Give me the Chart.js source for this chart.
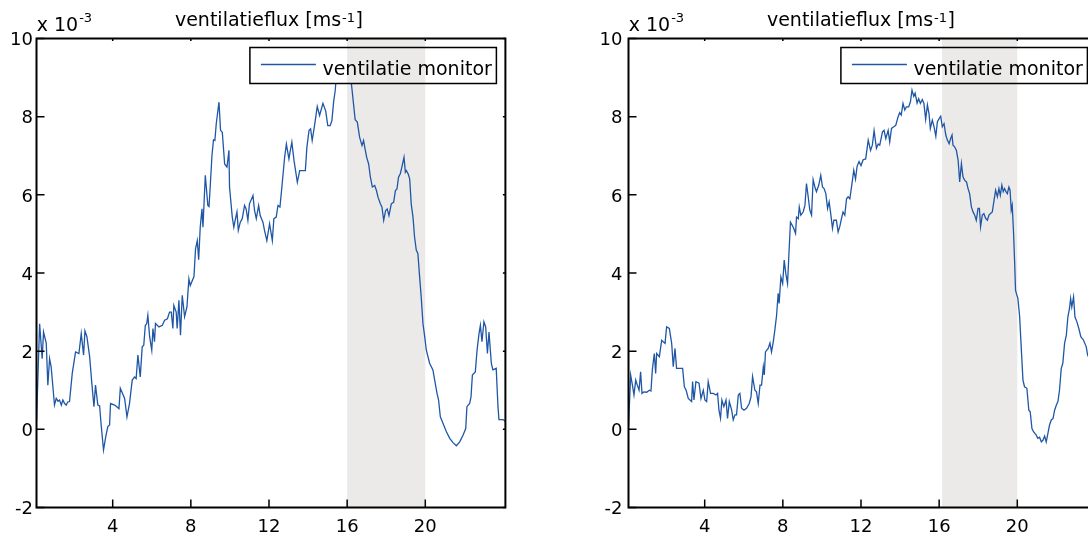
<!DOCTYPE html>
<html>
<head>
<meta charset="utf-8">
<title>ventilatieflux</title>
<script src="https://cdn.jsdelivr.net/npm/chart.js@4.4.1/dist/chart.umd.min.js"></script>
<style>
  html, body { margin:0; padding:0; background:#fff; overflow:hidden; width:1088px; height:535px; }
  canvas { position:absolute; top:0; }
  #links { left:0; }
  #rechts { left:590px; }
</style>
</head>
<body>
<canvas id="links" width="545" height="535"></canvas>
<canvas id="rechts" width="560" height="535"></canvas>
<script>
// tijd in uren, flux in 10^-3 m/s
var tijdLinks = [0.1,0.26,0.39,0.46,0.6,0.68,0.77,0.85,1.02,1.11,
  1.2,1.28,1.37,1.45,1.54,1.62,1.7,1.79,1.93,2.1,
  2.27,2.39,2.51,2.58,2.68,2.82,2.94,3.04,3.12,3.24,
  3.33,3.41,3.53,3.64,3.75,3.84,3.89,4.1,4.32,4.39,
  4.61,4.73,4.86,5.0,5.12,5.2,5.29,5.41,5.51,5.59,
  5.67,5.74,5.8,5.89,6.0,6.06,6.14,6.19,6.37,6.54,
  6.66,6.8,6.91,7.0,7.08,7.13,7.25,7.3,7.39,7.47,
  7.56,7.68,7.8,7.9,7.97,8.16,8.24,8.33,8.4,8.48,
  8.57,8.62,8.74,8.87,8.93,8.99,9.08,9.16,9.23,9.3,
  9.44,9.52,9.61,9.73,9.85,9.95,9.98,10.12,10.2,10.28,
  10.36,10.43,10.53,10.63,10.75,10.83,10.92,11.0,11.18,11.26,
  11.35,11.47,11.55,11.69,11.77,11.89,12.03,12.17,12.25,12.37,
  12.46,12.56,12.66,12.8,12.89,13.02,13.09,13.17,13.28,13.45,
  13.57,13.74,13.86,13.94,14.05,14.13,14.21,14.33,14.47,14.59,
  14.76,14.9,15.01,15.13,15.22,15.31,15.39,15.44,15.6,15.85,
  16.05,16.21,16.29,16.41,16.52,16.64,16.76,16.84,16.9,17.0,
  17.1,17.19,17.29,17.41,17.5,17.58,17.7,17.78,17.87,17.97,
  18.05,18.14,18.26,18.38,18.47,18.55,18.63,18.72,18.8,18.91,
  18.98,19.03,19.12,19.2,19.28,19.37,19.45,19.54,19.62,19.71,
  19.79,19.88,19.97,20.05,20.22,20.39,20.48,20.6,20.68,20.77,
  20.91,21.08,21.25,21.42,21.59,21.76,21.93,22.07,22.13,22.27,
  22.34,22.41,22.56,22.65,22.75,22.82,22.9,23.0,23.09,23.18,
  23.26,23.38,23.46,23.63,23.72,23.77,23.98,24.1];
var fluxLinks = [0.2,2.7,1.81,2.49,2.2,1.13,1.81,1.6,0.62,0.79,
  0.72,0.75,0.62,0.75,0.66,0.62,0.7,0.71,1.43,1.98,
  1.94,2.45,1.9,2.52,2.37,1.86,1.13,0.58,1.13,0.62,
  0.6,0.11,-0.53,-0.2,0.07,0.11,0.66,0.62,0.53,1.05,
  0.79,0.32,0.66,1.26,1.34,1.3,1.9,1.34,2.11,2.15,
  2.66,2.7,2.92,2.37,2.02,2.58,2.24,2.71,2.62,2.66,
  2.79,2.83,3.0,3.0,2.58,3.17,3.0,2.58,3.3,2.41,
  3.43,2.88,3.13,3.85,3.68,3.91,4.62,4.83,4.34,5.17,
  5.64,5.17,6.5,5.73,5.7,6.2,7.0,7.41,7.39,7.82,
  8.37,7.65,7.6,6.79,6.71,7.14,6.2,5.43,5.17,5.38,
  5.56,5.09,5.3,5.39,5.73,5.64,5.35,5.77,5.98,5.6,
  5.39,5.73,5.47,5.3,5.09,4.83,5.26,4.83,5.39,5.43,
  5.73,5.69,6.2,6.96,7.3,6.92,7.13,7.35,6.88,6.32,
  6.62,6.62,6.62,7.22,7.65,7.69,7.39,7.77,8.26,8.03,
  8.34,8.15,7.77,7.77,7.9,8.39,8.67,9.0,9.5,9.4,
  9.2,8.88,8.5,7.92,7.86,7.47,7.26,7.39,7.22,6.96,
  6.79,6.45,6.2,6.24,6.11,5.94,5.77,5.69,5.35,5.6,
  5.64,5.47,5.77,5.81,6.11,6.15,6.45,6.54,6.71,6.96,
  6.58,6.62,6.54,6.41,5.77,5.43,4.92,4.58,4.5,3.9,
  3.39,2.71,2.37,2.03,1.69,1.52,1.26,0.92,0.75,0.32,
  0.15,-0.06,-0.23,-0.34,-0.42,-0.32,-0.15,0.02,0.58,0.66,
  0.83,1.39,1.47,2.03,2.45,2.66,2.24,2.75,2.62,1.94,
  2.49,1.69,1.52,1.56,0.58,0.25,0.25,0.2];

var tijdRechts = [0.1,0.21,0.3,0.38,0.47,0.55,0.64,0.72,0.79,0.89,
  1.03,1.17,1.25,1.32,1.42,1.49,1.54,1.68,1.8,1.97,
  2.05,2.19,2.31,2.39,2.48,2.56,2.72,2.87,2.96,3.05,
  3.16,3.33,3.38,3.45,3.55,3.71,3.81,3.93,4.01,4.1,
  4.18,4.3,4.44,4.58,4.66,4.73,4.81,4.88,4.98,5.09,
  5.17,5.26,5.38,5.46,5.55,5.63,5.72,5.8,5.89,6.01,
  6.14,6.28,6.37,6.45,6.57,6.65,6.74,6.83,6.91,7.0,
  7.05,7.11,7.25,7.34,7.42,7.51,7.59,7.68,7.76,7.81,
  7.9,7.99,8.07,8.15,8.24,8.32,8.39,8.48,8.56,8.65,
  8.7,8.79,8.84,8.92,9.04,9.13,9.21,9.31,9.38,9.47,
  9.55,9.64,9.72,9.84,9.94,10.03,10.11,10.2,10.29,10.37,
  10.45,10.54,10.61,10.74,10.83,10.92,11.0,11.08,11.17,11.26,
  11.34,11.43,11.55,11.63,11.72,11.8,11.9,12.0,12.11,12.24,
  12.37,12.49,12.58,12.67,12.79,12.88,12.96,13.1,13.18,13.27,
  13.39,13.47,13.56,13.68,13.78,13.9,13.98,14.06,14.15,14.24,
  14.32,14.44,14.53,14.61,14.7,14.77,14.87,14.95,15.04,15.14,
  15.22,15.31,15.4,15.48,15.55,15.65,15.74,15.83,15.91,16.0,
  16.08,16.16,16.25,16.34,16.42,16.51,16.59,16.66,16.71,16.79,
  16.88,16.97,17.05,17.14,17.22,17.31,17.4,17.48,17.56,17.65,
  17.73,17.82,17.9,17.99,18.06,18.12,18.21,18.29,18.38,18.47,
  18.55,18.63,18.72,18.81,18.89,18.98,19.06,19.13,19.21,19.28,
  19.35,19.42,19.49,19.57,19.63,19.69,19.74,19.81,19.86,19.91,
  19.95,20.03,20.12,20.2,20.29,20.37,20.49,20.59,20.66,20.75,
  20.83,20.97,21.05,21.14,21.23,21.31,21.4,21.48,21.57,21.65,
  21.74,21.83,21.91,22.0,22.08,22.16,22.25,22.33,22.42,22.51,
  22.59,22.67,22.73,22.79,22.88,22.95,23.05,23.15,23.25,23.39,
  23.53,23.6,23.8,24.1];
var fluxRechts = [0.07,1.39,1.13,0.88,1.26,1.13,1.0,1.47,0.92,0.96,
  0.95,1.0,0.98,1.52,1.94,1.43,1.94,1.86,2.28,2.2,
  2.62,2.58,2.2,1.6,2.07,1.56,1.56,1.56,1.09,1.0,
  0.79,0.71,1.22,0.75,1.22,1.18,0.79,1.0,0.75,0.71,
  1.22,0.92,0.92,0.88,0.92,0.49,0.28,0.75,0.58,0.75,
  0.28,0.71,0.49,0.24,0.37,0.37,0.88,0.92,0.54,0.49,
  0.54,0.66,0.83,1.35,1.0,0.96,0.66,1.13,1.13,1.6,
  1.39,1.98,2.07,2.21,1.98,2.24,2.54,2.92,3.48,3.22,
  3.9,3.73,4.33,3.99,3.73,4.58,5.3,5.22,5.14,5.01,
  5.43,5.39,5.69,5.48,5.56,5.73,6.29,5.9,5.61,5.48,
  6.39,6.2,6.08,6.25,6.5,6.2,6.16,6.03,5.65,5.82,
  5.52,5.14,5.35,5.35,5.05,5.2,5.39,5.56,5.48,5.9,
  5.95,5.9,6.33,6.63,6.4,6.73,6.85,6.75,6.9,6.92,
  7.4,7.14,7.27,7.64,7.19,7.3,7.27,7.61,7.65,7.44,
  7.65,7.35,7.7,7.74,7.78,8.0,8.1,8.04,8.34,8.17,
  8.25,8.25,8.38,8.68,8.52,8.6,8.35,8.46,8.34,8.44,
  8.34,7.93,8.3,8.08,7.7,7.91,7.74,7.5,7.87,7.95,
  8.01,7.74,7.82,7.53,7.4,7.31,7.44,7.53,7.27,7.23,
  7.14,6.89,6.33,6.8,6.46,6.37,6.33,6.16,6.03,5.69,
  5.57,5.48,5.35,5.65,5.65,5.18,5.48,5.52,5.4,5.35,
  5.48,5.52,5.56,5.86,6.12,5.95,6.16,5.99,6.25,6.08,
  6.16,6.08,6.03,6.2,6.12,5.61,5.73,5.01,4.33,3.56,
  3.48,3.35,2.88,2.11,1.26,1.09,1.05,0.49,0.45,0.02,
  -0.06,-0.15,-0.23,-0.2,-0.32,-0.28,-0.17,-0.32,-0.1,0.11,
  0.24,0.28,0.49,0.62,0.71,1.0,1.56,1.69,2.2,2.41,
  2.88,3.09,3.35,3.13,3.39,2.88,2.75,2.58,2.37,2.28,
  2.11,1.9,1.7,1.5];

var xTicks = [4, 8, 12, 16, 20];
var yTicks = [-2, 0, 2, 4, 6, 8, 10];
var schaduwLinks = [16, 20];
var schaduwRechts = [16.15, 20];
var titel = ['ventilatieflux [ms', '-1', ']'];
var factor = ['x 10', '-3'];
var legendaLabel = 'ventilatie monitor';

var lijnKleur = '#1f57a6';
var schaduwKleur = '#ebeae8';
var FONT = '"DejaVu Sans", sans-serif';

Chart.defaults.font.family = FONT;
Chart.defaults.color = '#000';

// schaduw, legenda, kader, streepjes en titel
var kaderPlugin = {
  id: 'kader',
  beforeDraw: function(chart, args, o){
    var ctx = chart.ctx, a = chart.chartArea, sx = chart.scales.x;
    var x0 = sx.getPixelForValue(o.schaduw[0]), x1 = sx.getPixelForValue(o.schaduw[1]);
    ctx.save();
    ctx.fillStyle = schaduwKleur;
    ctx.fillRect(x0, a.top, x1 - x0, a.bottom - a.top);
    ctx.restore();
  },
  afterDatasetsDraw: function(chart, args, o){
    var ctx = chart.ctx, a = chart.chartArea, sx = chart.scales.x, sy = chart.scales.y;
    ctx.save();
    // legenda
    var lw = 246.5, lh = 36;
    var lx = a.right - o.legendaRechts - lw, ly = a.top + 9;
    ctx.fillStyle = '#fff';
    ctx.fillRect(lx, ly, lw, lh);
    var s0 = Math.max(sx.getPixelForValue(o.schaduw[0]), lx);
    var s1 = Math.min(sx.getPixelForValue(o.schaduw[1]), lx + lw);
    if (s1 > s0) {
      ctx.fillStyle = schaduwKleur;
      ctx.fillRect(s0, ly, s1 - s0, lh);
    }
    ctx.strokeStyle = '#000';
    ctx.lineWidth = 1.5;
    ctx.strokeRect(lx, ly, lw, lh);
    ctx.strokeStyle = lijnKleur;
    ctx.lineWidth = 1.3;
    ctx.beginPath();
    ctx.moveTo(lx + 11, ly + 17);
    ctx.lineTo(lx + 66, ly + 17);
    ctx.stroke();
    ctx.fillStyle = '#000';
    ctx.font = '19px ' + FONT;
    ctx.textAlign = 'left';
    ctx.textBaseline = 'alphabetic';
    ctx.fillText(legendaLabel, lx + 72.5, ly + 27.7);

    // streepjes naar binnen
    ctx.strokeStyle = '#000';
    ctx.lineWidth = 1.5;
    ctx.beginPath();
    xTicks.forEach(function(v){
      var p = sx.getPixelForValue(v);
      ctx.moveTo(p, a.bottom); ctx.lineTo(p, a.bottom - 8);
      ctx.moveTo(p, a.top); ctx.lineTo(p, a.top + 2.5);
    });
    yTicks.forEach(function(v){
      var p = sy.getPixelForValue(v);
      ctx.moveTo(a.left, p); ctx.lineTo(a.left + 8, p);
      ctx.moveTo(a.right, p); ctx.lineTo(a.right - 2.5, p);
    });
    ctx.stroke();

    // kader
    ctx.lineWidth = 2;
    ctx.strokeRect(a.left, a.top, a.right - a.left, a.bottom - a.top);
    ctx.restore();
  },
  afterDraw: function(chart, args, o){
    var ctx = chart.ctx, a = chart.chartArea;
    ctx.save();
    ctx.fillStyle = '#000';
    ctx.textAlign = 'left';
    ctx.textBaseline = 'alphabetic';
    ctx.font = '19px ' + FONT;
    var w1 = ctx.measureText(titel[0]).width, w3 = ctx.measureText(titel[2]).width;
    ctx.font = '13px ' + FONT;
    var w2 = ctx.measureText(titel[1]).width + 1.5;
    var start = (a.left + a.right) / 2 - 2 - (w1 + w2 + w3) / 2;
    ctx.font = '19px ' + FONT;
    ctx.fillText(titel[0], start, 26);
    ctx.fillText(titel[2], start + w1 + w2, 26);
    ctx.font = '13px ' + FONT;
    ctx.fillText(titel[1], start + w1 + 1, 21.5);

    ctx.font = '19px ' + FONT;
    ctx.fillText(factor[0], a.left + 0.2, 30.7);
    var wf = ctx.measureText(factor[0]).width;
    ctx.font = '13px ' + FONT;
    ctx.fillText(factor[1], a.left + 0.2 + wf + 1, 22.3);
    ctx.restore();
  }
};

function maakGrafiek(id, tijd, flux, schaduw, yBreedte, rechtsPad, labelPad, legendaRechts){
  var punten = tijd.map(function(t, i){ return {x: t, y: flux[i]}; });
  return new Chart(document.getElementById(id), {
    type: 'line',
    data: {
      datasets: [{
        label: legendaLabel,
        data: punten,
        borderColor: lijnKleur,
        borderWidth: 1.3,
        pointRadius: 0,
        tension: 0,
        fill: false
      }]
    },
    options: {
      responsive: false,
      animation: false,
      devicePixelRatio: 1,
      layout: { padding: { left: 0, top: 38.5, right: rechtsPad, bottom: 0 } },
      plugins: {
        legend: { display: false },
        title: { display: false },
        tooltip: { enabled: false },
        kader: { schaduw: schaduw, legendaRechts: legendaRechts }
      },
      scales: {
        x: {
          type: 'linear',
          min: 0.1,
          max: 24.1,
          grid: { display: false, drawTicks: false },
          border: { display: false },
          ticks: { color: '#000', font: { size: 18 }, padding: 9, maxRotation: 0, autoSkip: false },
          afterBuildTicks: function(s){ s.ticks = xTicks.map(function(v){ return {value: v}; }); },
          afterFit: function(s){ s.height = 27.5; }
        },
        y: {
          min: -2,
          max: 10,
          grid: { display: false, drawTicks: false },
          border: { display: false },
          ticks: { color: '#000', font: { size: 18 }, padding: labelPad, labelOffset: 2, autoSkip: false },
          afterBuildTicks: function(s){ s.ticks = yTicks.map(function(v){ return {value: v}; }); },
          afterFit: function(s){ s.width = yBreedte; }
        }
      }
    },
    plugins: [kaderPlugin]
  });
}

var grafiekLinks = maakGrafiek('links', tijdLinks, fluxLinks, schaduwLinks, 36.5, 39.6, 3.5, 9);
var grafiekRechts = maakGrafiek('rechts', tijdRechts, fluxRechts, schaduwRechts, 38.5, 52.6, 6, 10);
</script>
</body>
</html>
